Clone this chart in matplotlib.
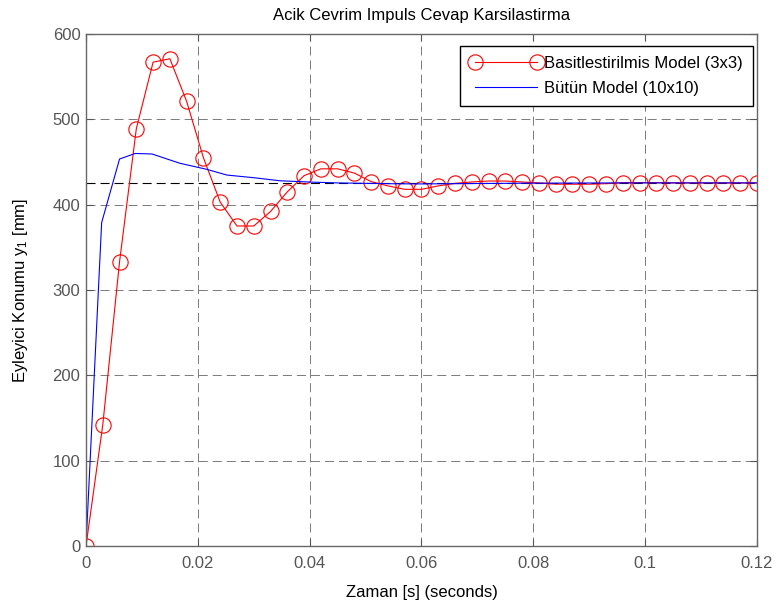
import numpy as np
import matplotlib
matplotlib.use('Agg')
import matplotlib.pyplot as plt
from matplotlib.ticker import FuncFormatter

plt.rcParams['font.family'] = ['Liberation Sans', 'DejaVu Sans']
plt.rcParams['lines.scale_dashes'] = False

# reduced model (3x3), sampled every 0.003 s
t_red = np.arange(41) * 0.003
y_red = [0, 142, 333, 489, 567, 571, 521, 455, 403, 375, 375, 392, 415, 434,
         442, 442, 437, 427, 422, 418, 418, 422, 425, 426.6, 427.7, 427.7,
         426.6, 425.4, 424, 424, 424, 424.6, 425.8, 425.8, 425.8, 425.6,
         425.5, 425.5, 425.5, 425.5, 425.5]

# full model (10x10)
t_full = [0, 0.0028, 0.006, 0.0088, 0.0118, 0.0168, 0.0216, 0.0252, 0.03, 0.0347,
          0.04, 0.045, 0.05, 0.055, 0.06, 0.07, 0.08, 0.09, 0.1, 0.11, 0.12]
y_full = [0, 379, 453.5, 460, 459.4, 448.5, 441.4, 434.7, 431.6, 428, 426.5,
          425.5, 425, 424.5, 424.3, 424.8, 425.2, 425.4, 425.5, 425.5, 425.5]

y_ss = 425.3

fig = plt.figure(figsize=[7.74, 6.02], dpi=100)
ax = fig.add_axes([86/774, 1-546/602, (757-86)/774, (546-34)/602])

ax.plot([0, 0.12], [y_ss, y_ss], color='black', linestyle=(0, (6.5, 3.6)), linewidth=0.8)
ax.plot(t_red, y_red, color='red', marker='o', markersize=11, markerfacecolor='none',
        markeredgewidth=0.8, linewidth=0.8, label='Basitlestirilmis Model (3x3)')
ax.plot(t_full, y_full, color='blue', linewidth=0.8, label='Bütün Model (10x10)')

ax.set_xlim(0, 0.12)
ax.set_ylim(0, 600)
ax.set_xticks(np.arange(0, 0.121, 0.02))
ax.set_yticks(np.arange(0, 601, 100))
ax.xaxis.set_major_formatter(FuncFormatter(lambda v, p: '%g' % round(v, 4)))
ax.grid(True, color='#7a7a7a', linestyle=(0, (6.5, 3.6)), linewidth=0.7)
ax.tick_params(direction='in', colors='#555555', labelsize=12, length=5, pad=4,
               top=True, right=True)
ax.tick_params(axis='x', pad=7)
for s in ax.spines.values():
    s.set_color('#666666')
    s.set_linewidth(1.0)

ax.set_title('Acik Cevrim Impuls Cevap Karsilastirma', fontsize=12, pad=10)
ax.set_xlabel('Zaman [s] (seconds)', fontsize=12, labelpad=10)
ax.set_ylabel('Eyleyici Konumu y$\\mathregular{_1}$ [mm]', fontsize=12, labelpad=16)

leg = ax.legend(loc='upper right', bbox_to_anchor=(753/774, 1-46/602),
                bbox_transform=fig.transFigure, borderaxespad=0,
                handlelength=4.3, handletextpad=0.15, numpoints=2, fancybox=False,
                framealpha=1, edgecolor='black', fontsize=12, labelspacing=0.6,
                borderpad=0.6)
leg.get_frame().set_linewidth(1.0)

fig.savefig('out.png', dpi=100)
